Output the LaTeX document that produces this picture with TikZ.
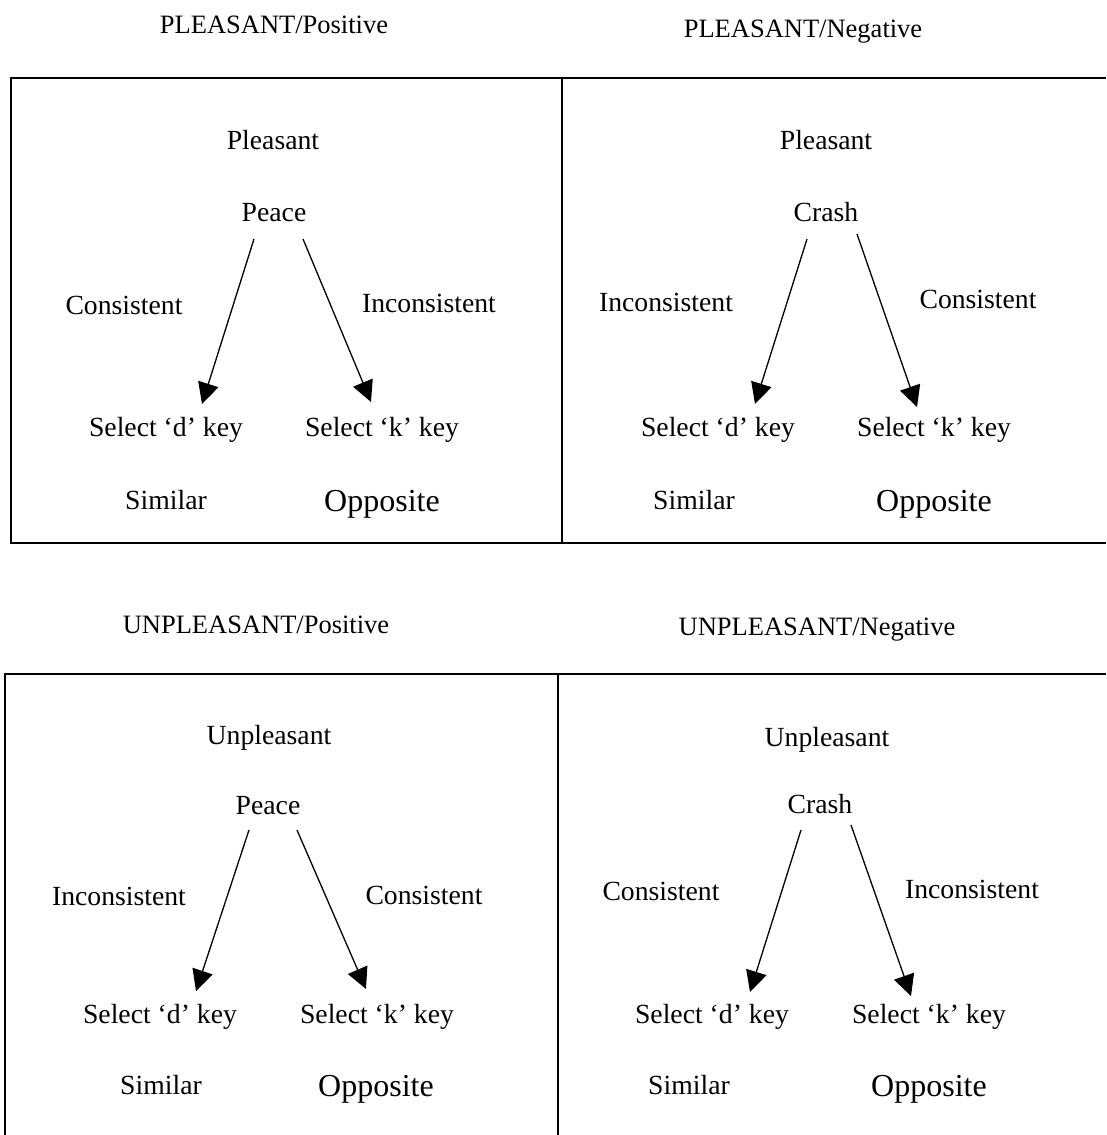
\documentclass[tikz,border=0pt]{standalone}
\usepackage{fontspec}
\setmainfont{Liberation Serif}
\usetikzlibrary{arrows.meta}
\tikzset{
  lbl/.style={anchor=base,inner sep=0pt,font=\fontsize{27.7}{33}\selectfont},
  hdr/.style={anchor=base,inner sep=0pt,font=\fontsize{26.5}{32}\selectfont},
  big/.style={anchor=base,inner sep=0pt,font=\fontsize{32}{38}\selectfont},
  arr/.style={line width=1.3pt,-{Triangle[length=21pt,width=21pt]}},
  boxline/.style={line width=2pt}
}
\begin{document}
\begin{tikzpicture}[x=1pt,y=-1pt]
            \useasboundingbox (0,0) rectangle (1106,1135);
            \draw[boxline] (1106,78)--(11,78)--(11,543)--(1106,543);
            \draw[boxline] (562,78)--(562,543);
            \draw[boxline] (1106,674)--(5,674)--(5,1135);
            \draw[boxline] (557.5,674)--(557.5,1135);

            \node[hdr] (tlhead) at (274,33) {PLEASANT/Positive};
            \node[lbl] (tltop) at (273,149) {Pleasant};
            \node[lbl] (tlword) at (274,221) {Peace};
            \node[lbl] (tlleft) at (124,314) {Consistent};
            \node[lbl] (tlright) at (429,312) {Inconsistent};
            \node[lbl] (tld) at (166,436) {Select ‘d’ key};
            \node[lbl] (tlk) at (382,436) {Select ‘k’ key};
            \node[lbl] (tlsim) at (166,509) {Similar};
            \node[big] (tlopp) at (382,511) {Opposite};
            \draw[arr] ([shift={(-20,18)}]tlword.base)--([shift={(36,-32)}]tld.base);
            \draw[arr] ([shift={(29,18)}]tlword.base)--([shift={(-11,-34)}]tlk.base);

            \node[hdr] (trhead) at (803,37) {PLEASANT/Negative};
            \node[lbl] (trtop) at (826,149) {Pleasant};
            \node[lbl] (trword) at (826,221) {Crash};
            \node[lbl] (trleft) at (666,311) {Inconsistent};
            \node[lbl] (trright) at (978,308) {Consistent};
            \node[lbl] (trd) at (718,436) {Select ‘d’ key};
            \node[lbl] (trk) at (934,436) {Select ‘k’ key};
            \node[lbl] (trsim) at (694,509) {Similar};
            \node[big] (tropp) at (934,511) {Opposite};
            \draw[arr] ([shift={(-19,18)}]trword.base)--([shift={(37,-32)}]trd.base);
            \draw[arr] ([shift={(31,13)}]trword.base)--([shift={(-17,-29)}]trk.base);

            \node[hdr] (blhead) at (256,633) {UNPLEASANT/Positive};
            \node[lbl] (bltop) at (269,744) {Unpleasant};
            \node[lbl] (blword) at (268,814) {Peace};
            \node[lbl] (blleft) at (119,905) {Inconsistent};
            \node[lbl] (blright) at (424,904) {Consistent};
            \node[lbl] (bld) at (160,1023) {Select ‘d’ key};
            \node[lbl] (blk) at (377,1023) {Select ‘k’ key};
            \node[lbl] (blsim) at (161,1094) {Similar};
            \node[big] (blopp) at (376,1096) {Opposite};
            \draw[arr] ([shift={(-19,16)}]blword.base)--([shift={(36,-32)}]bld.base);
            \draw[arr] ([shift={(29,16)}]blword.base)--([shift={(-11,-34)}]blk.base);

            \node[hdr] (brhead) at (817,635) {UNPLEASANT/Negative};
            \node[lbl] (brtop) at (827,746) {Unpleasant};
            \node[lbl] (brword) at (820,813) {Crash};
            \node[lbl] (brleft) at (661,900) {Consistent};
            \node[lbl] (brright) at (972,898) {Inconsistent};
            \node[lbl] (brd) at (712,1023) {Select ‘d’ key};
            \node[lbl] (brk) at (929,1023) {Select ‘k’ key};
            \node[lbl] (brsim) at (689,1094) {Similar};
            \node[big] (bropp) at (929,1096) {Opposite};
            \draw[arr] ([shift={(-19,17)}]brword.base)--([shift={(38,-31)}]brd.base);
            \draw[arr] ([shift={(31,12)}]brword.base)--([shift={(-18,-27)}]brk.base);
        \end{tikzpicture}
\end{document}
